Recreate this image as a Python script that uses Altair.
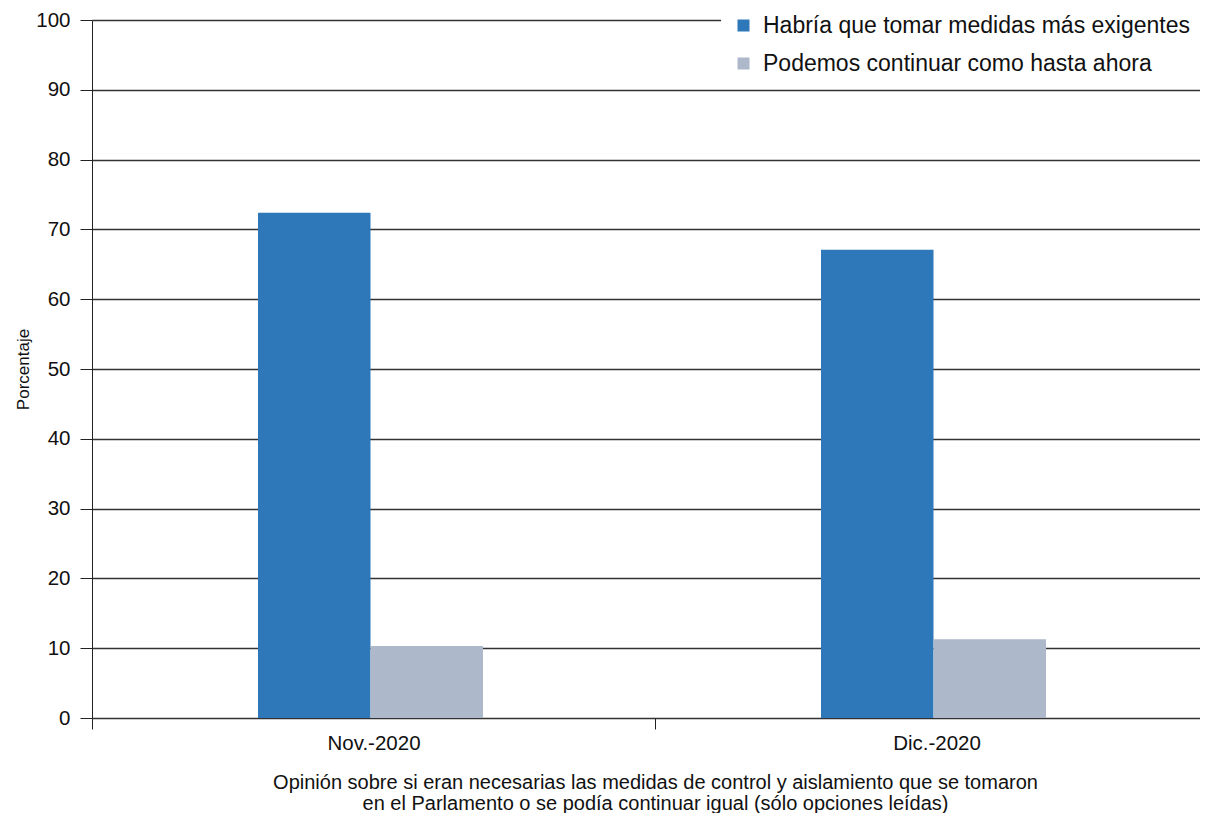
import altair as alt
import pandas as pd

periods = ["Nov.-2020", "Dic.-2020"]
series = ["Habría que tomar medidas más exigentes", "Podemos continuar como hasta ahora"]
values_exigentes = [72.4, 67.1]
values_continuar = [10.3, 11.3]
colors = ["#2E77B8", "#ADB8CB"]
y_ticks = [0, 10, 20, 30, 40, 50, 60, 70, 80, 90, 100]

rows = []
for i, p in enumerate(periods):
    rows.append({"periodo": p, "serie": series[0], "valor": values_exigentes[i]})
    rows.append({"periodo": p, "serie": series[1], "valor": values_continuar[i]})
df = pd.DataFrame(rows)

FONT = "Liberation Sans"

chart = alt.Chart(df).mark_bar().encode(
    x=alt.X(
        "periodo:N",
        sort=periods,
        scale=alt.Scale(range=[0, 1126], paddingInner=0, paddingOuter=0),
        axis=alt.Axis(
            title=[
                "Opinión sobre si eran necesarias las medidas de control y aislamiento que se tomaron",
                "en el Parlamento o se podía continuar igual (sólo opciones leídas)",
            ],
            titleFontSize=20,
            titleFontWeight="normal",
            titleColor="#111111",
            titleFont=FONT,
            titlePadding=19,
            titleLineHeight=21,
            labelAngle=0,
            labelFontSize=20.5,
            labelFont=FONT,
            labelColor="#111111",
            labelPadding=4,
            tickBand="extent",
            tickSize=11,
            tickColor="#222222",
            domain=False,
            grid=False,
        ),
    ),
    xOffset=alt.XOffset(
        "serie:N",
        sort=series,
        scale=alt.Scale(range=[166, 391], paddingInner=0, paddingOuter=0),
    ),
    y=alt.Y(
        "valor:Q",
        scale=alt.Scale(domain=[0, 100], nice=False),
        axis=alt.Axis(
            title="Porcentaje",
            titleFontSize=17,
            titleFontWeight="normal",
            titleFont=FONT,
            titleColor="#111111",
            titlePadding=3,
            values=y_ticks,
            labelFontSize=20.5,
            labelFont=FONT,
            labelColor="#111111",
            labelPadding=10,
            tickSize=12,
            tickColor="#222222",
            domainColor="#222222",
            gridColor="#333333",
            gridWidth=1.3,
        ),
    ),
    color=alt.Color(
        "serie:N",
        sort=series,
        scale=alt.Scale(domain=series, range=colors),
        legend=alt.Legend(
            title=None,
            orient="none",
            legendX=629,
            legendY=-17,
            fillColor="white",
            padding=11,
            symbolType="square",
            symbolSize=144,
            symbolStrokeWidth=0,
            labelFontSize=23,
            labelFont=FONT,
            labelColor="#111111",
            rowPadding=14,
            labelOffset=8,
            labelLimit=700,
        ),
    ),
).properties(
    width=1108,
    height=698,
    autosize=alt.AutoSizeParams(type="none"),
    padding={"left": 84, "top": 12, "right": 0, "bottom": 95},
).configure_view(stroke=None).configure_axis(grid=True)

chart.save("out.html", embed_options={"renderer": "svg", "actions": False})
